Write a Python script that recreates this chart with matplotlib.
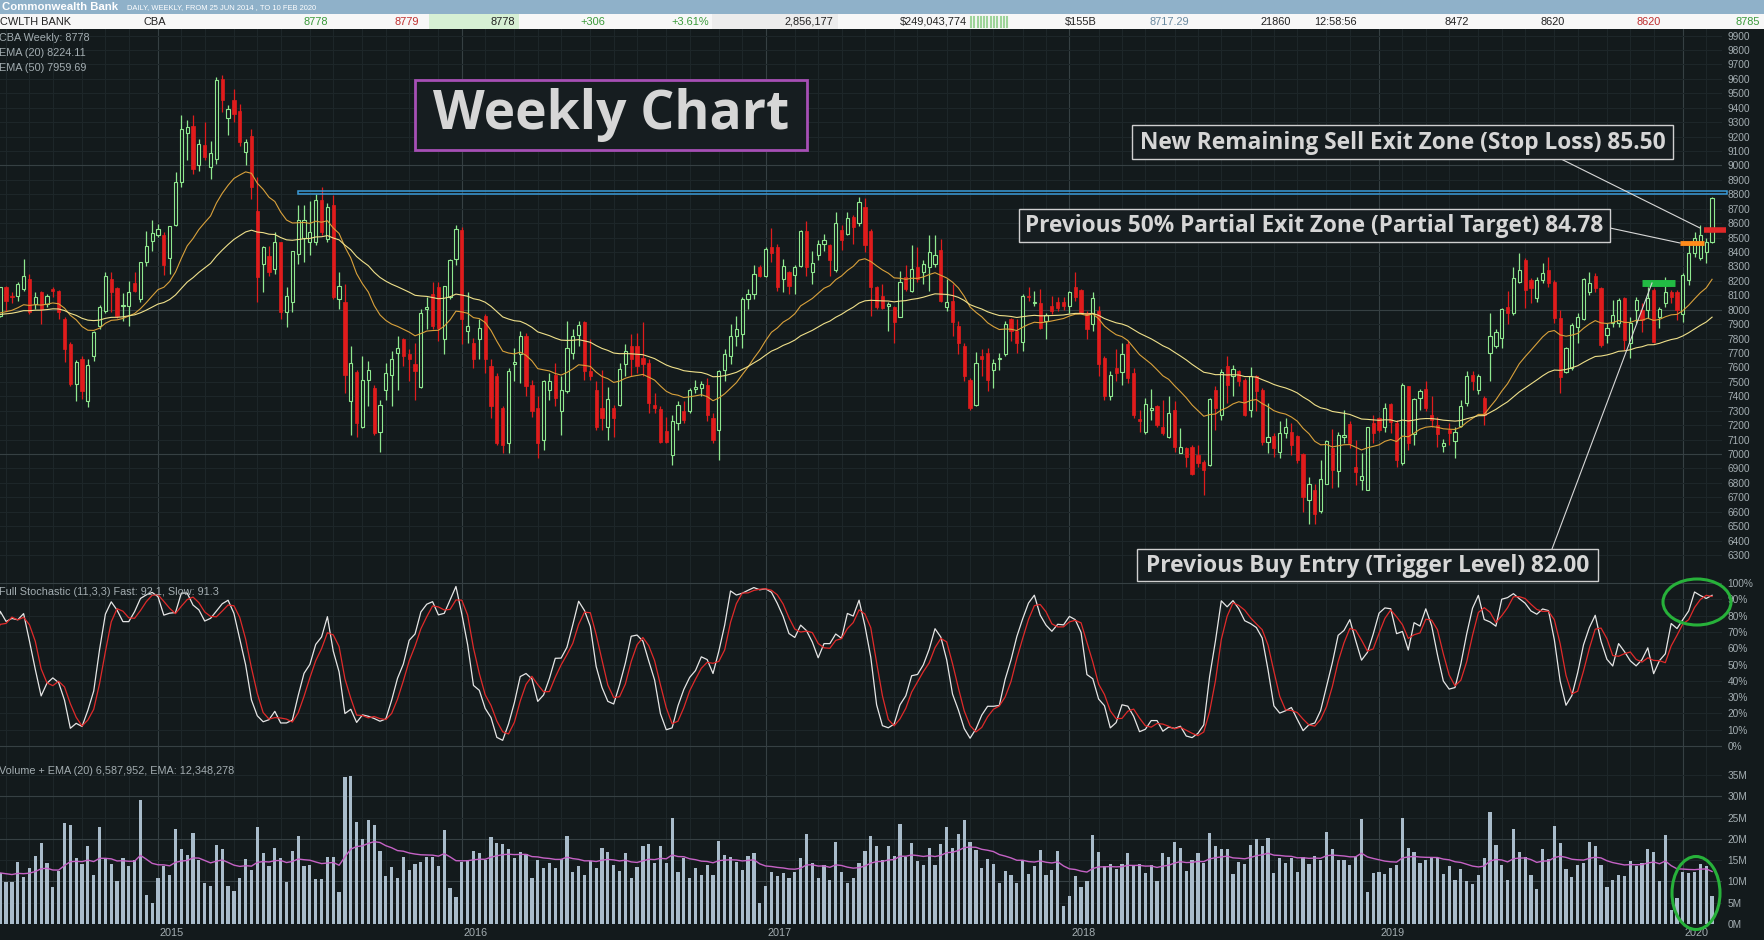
import numpy as np
import pandas as pd
import matplotlib
matplotlib.use("Agg")
import matplotlib.pyplot as plt
from matplotlib.patches import Rectangle, Ellipse
from matplotlib.lines import Line2D
import matplotlib.transforms as mtransforms

plt.rcParams['font.family'] = ['Liberation Sans', 'DejaVu Sans']

# weekly CBA candles, 23 Jun 2014 .. 10 Feb 2020
start_week = '2014-06-23'

opens = [
    7900, 7960, 8156, 8098, 8098, 8145, 8214, 8041, 8121, 8041,
    8145, 8128, 7936, 7763, 7486, 7659, 7370, 7682, 7890, 7994,
    8214, 8149, 8029, 8029, 8186, 8075, 8330, 8480, 8521, 8521,
    8357, 8591, 8884, 9227, 9277, 9000, 9143, 8988, 9046, 9597,
    9328, 9455, 9381, 9092, 9203, 8688, 8318, 8376, 8283, 8468,
    7983, 8052, 8388, 8498, 8470, 8470, 8760, 8493, 8726, 8074,
    8051, 7365, 7568, 7191, 7516, 7458, 7156, 7446, 7551, 7702,
    7795, 7691, 7621, 7465, 8005, 8109, 8156, 7795, 8086, 8354,
    8551, 7853, 7772, 7795, 7958, 7609, 7539, 7319, 7074, 7621,
    7691, 7818, 7481, 7319, 7098, 7447, 7551, 7295, 7435, 7702,
    7823, 7912, 7574, 7446, 7319, 7191, 7319, 7342, 7621, 7749,
    7749, 7667, 7633, 7342, 7312, 7163, 6993, 7214, 7300, 7295,
    7451, 7458, 7481, 7249, 7167, 7586, 7679, 7818, 7830, 8074,
    8109, 8295, 8237, 8435, 8435, 8214, 8260, 8242, 8302, 8547,
    8260, 8377, 8458, 8447, 8279, 8551, 8528, 8644, 8600, 8714,
    8547, 8156, 8093, 8028, 8016, 7953, 8226, 8133, 8295, 8260,
    8295, 8319, 8412, 8016, 8063, 7888, 7749, 7516, 7342, 7679,
    7702, 7581, 7656, 7691, 7935, 7853, 7777, 8098, 8047, 8047,
    7923, 8023, 8056, 8056, 8028, 8156, 8137, 7981, 7900, 7993,
    7667, 7400, 7598, 7567, 7760, 7563, 7242, 7151, 7307, 7330,
    7191, 7121, 7307, 7009, 7040, 7051, 6993, 6947, 6923, 7442,
    7272, 7609, 7540, 7574, 7512, 7307, 7540, 7446, 7086, 7126,
    7016, 7149, 7156, 7126, 7000, 6679, 6749, 6602, 6795, 7040,
    6884, 7121, 7209, 6912, 6823, 6753, 7214, 7249, 7191, 7349,
    7214, 6935, 7470, 7139, 7388, 7454, 7272, 7202, 7056, 7167,
    7093, 7195, 7353, 7551, 7446, 7388, 7698, 7749, 7807, 8016,
    7975, 8195, 8345, 8206, 8079, 8206, 8276, 8194, 7940, 7571,
    7594, 7883, 7934, 8125, 8234, 8148, 7825, 7906, 7906, 8079,
    7767, 8000, 8000, 8000, 8137, 7952, 8044, 8125, 8125, 7971,
    8206, 8391, 8356, 8402, 8472]

highs = [
    8000, 8160, 8167, 8120, 8191, 8353, 8249, 8126, 8130, 8110,
    8156, 8140, 7950, 7780, 7650, 7680, 7659, 7856, 8030, 8260,
    8260, 8160, 8117, 8202, 8260, 8330, 8545, 8619, 8595, 8538,
    8584, 8954, 9347, 9312, 9347, 9185, 9300, 9173, 9613, 9629,
    9416, 9532, 9428, 9185, 9250, 8919, 8445, 8445, 8538, 8468,
    8156, 8410, 8726, 8726, 8754, 8800, 8854, 8737, 8795, 8260,
    8179, 7749, 7580, 7679, 7644, 7481, 7377, 7632, 7714, 7819,
    7807, 7726, 7772, 8005, 8086, 8191, 8191, 8167, 8354, 8586,
    8574, 8121, 7807, 7935, 7970, 7656, 7563, 7330, 7598, 7737,
    7853, 7842, 7516, 7400, 7516, 7563, 7632, 7540, 7923, 7865,
    7923, 7923, 7795, 7505, 7586, 7465, 7342, 7632, 7760, 7830,
    7842, 7916, 7656, 7423, 7330, 7260, 7272, 7365, 7365, 7458,
    7516, 7505, 7528, 7284, 7586, 7726, 7900, 7958, 8086, 8144,
    8307, 8307, 8435, 8567, 8458, 8354, 8272, 8312, 8551, 8614,
    8405, 8481, 8528, 8458, 8675, 8586, 8679, 8656, 8779, 8772,
    8563, 8167, 8179, 8051, 8028, 8272, 8307, 8447, 8435, 8342,
    8516, 8516, 8493, 8214, 8179, 7923, 7772, 7528, 7707, 7726,
    7737, 7656, 7702, 7923, 7940, 7935, 8109, 8156, 8133, 8144,
    7981, 8093, 8086, 8086, 8133, 8265, 8144, 7993, 8121, 8028,
    7679, 7574, 7726, 7772, 7784, 7598, 7307, 7388, 7451, 7342,
    7377, 7400, 7365, 7179, 7051, 7063, 7063, 6958, 7388, 7474,
    7591, 7679, 7614, 7586, 7528, 7605, 7551, 7458, 7353, 7144,
    7226, 7249, 7214, 7132, 7005, 6842, 6795, 6958, 7098, 7172,
    7156, 7307, 7226, 7098, 7005, 7191, 7272, 7260, 7353, 7353,
    7237, 7493, 7470, 7388, 7451, 7505, 7400, 7260, 7102, 7214,
    7191, 7377, 7574, 7574, 7558, 7400, 7981, 7865, 8009, 8133,
    8299, 8391, 8356, 8218, 8229, 8322, 8368, 8206, 7998, 7744,
    7906, 7975, 8218, 8264, 8252, 8160, 7906, 8067, 8079, 8091,
    7947, 8091, 8044, 8160, 8148, 8021, 8229, 8137, 8137, 8252,
    8460, 8541, 8587, 8495, 8779]

lows = [
    7880, 7950, 7994, 8050, 8064, 8130, 7971, 8006, 7902, 8020,
    8087, 7936, 7636, 7470, 7370, 7382, 7324, 7647, 7870, 7980,
    7983, 7940, 7925, 7890, 8121, 8052, 8306, 8410, 8503, 8242,
    8249, 8580, 8850, 9035, 8942, 8965, 9035, 8908, 9012, 9370,
    9208, 9300, 9134, 9000, 8769, 8052, 8121, 8237, 8249, 7936,
    7879, 7983, 8319, 8330, 8377, 8447, 8516, 8470, 8074, 8005,
    7423, 7132, 7121, 7179, 7330, 7132, 7016, 7377, 7330, 7446,
    7609, 7504, 7377, 7458, 7865, 7865, 7784, 7691, 8074, 8307,
    7760, 7772, 7598, 7656, 7563, 7249, 7063, 7005, 7005, 7505,
    7493, 7400, 7260, 6970, 7028, 7377, 7330, 7132, 7423, 7656,
    7749, 7516, 7516, 7167, 7167, 7098, 7121, 7330, 7540, 7540,
    7563, 7540, 7284, 7284, 7074, 7074, 6923, 7167, 7214, 7284,
    7423, 7400, 7226, 7074, 6958, 7505, 7621, 7749, 7737, 8005,
    8074, 8226, 8226, 8330, 8133, 8121, 8109, 8109, 8295, 8237,
    8179, 8342, 8405, 8237, 8260, 8412, 8521, 8453, 8584, 8400,
    7958, 8005, 8005, 7853, 7772, 7947, 8133, 8121, 8191, 8179,
    8133, 8295, 8051, 7993, 7819, 7691, 7505, 7307, 7330, 7540,
    7435, 7458, 7586, 7679, 7784, 7702, 7714, 8063, 8028, 7865,
    7795, 7970, 7993, 8000, 7981, 8063, 7970, 7795, 7853, 7540,
    7377, 7377, 7505, 7481, 7493, 7249, 7156, 7139, 7237, 7191,
    7132, 7109, 7016, 7005, 6912, 6853, 6912, 6714, 6916, 7167,
    7237, 7353, 7400, 7470, 7265, 7260, 7295, 7063, 7005, 6981,
    6970, 7109, 6993, 6935, 6597, 6516, 6516, 6590, 6791, 6767,
    6772, 7074, 7039, 6784, 6749, 6749, 7074, 7156, 7156, 7144,
    6912, 6923, 7028, 7063, 7307, 7295, 7191, 7051, 7016, 7063,
    6970, 7191, 7330, 7447, 7419, 7202, 7505, 7737, 7737, 7900,
    7964, 8183, 8010, 8044, 8056, 8183, 8160, 7906, 7421, 7559,
    7582, 7767, 7929, 8102, 8125, 7744, 7767, 7883, 7883, 7721,
    7663, 7906, 7848, 7941, 7767, 7871, 8021, 8044, 7929, 7917,
    8172, 8368, 8345, 8322, 8460]

closes = [
    7960, 8156, 8064, 8087, 8179, 8237, 7983, 8087, 8006, 8094,
    8133, 7983, 7728, 7486, 7636, 7439, 7617, 7844, 8017, 8232,
    8121, 7960, 8034, 8121, 8133, 8330, 8445, 8531, 8561, 8311,
    8579, 8884, 9254, 9266, 8977, 9150, 9058, 9086, 9590, 9451,
    9393, 9358, 9162, 9162, 8850, 8225, 8434, 8260, 8468, 7983,
    8098, 8404, 8621, 8621, 8540, 8760, 8540, 8714, 8086, 8167,
    7551, 7633, 7214, 7516, 7581, 7144, 7342, 7563, 7656, 7737,
    7679, 7656, 7574, 7981, 8021, 7888, 7877, 8163, 8342, 8563,
    7935, 7888, 7656, 7877, 7656, 7330, 7074, 7063, 7574, 7637,
    7818, 7470, 7295, 7074, 7505, 7505, 7388, 7446, 7737, 7818,
    7895, 7574, 7540, 7191, 7249, 7381, 7249, 7591, 7714, 7656,
    7609, 7621, 7353, 7319, 7086, 7086, 7226, 7339, 7237, 7446,
    7465, 7488, 7272, 7098, 7574, 7691, 7818, 7865, 8074, 8109,
    8249, 8237, 8419, 8395, 8156, 8300, 8167, 8295, 8547, 8295,
    8323, 8456, 8481, 8342, 8598, 8481, 8633, 8574, 8749, 8447,
    8156, 8016, 8009, 8040, 7912, 8191, 8144, 8284, 8214, 8319,
    8400, 8381, 8063, 8051, 7912, 7772, 7540, 7319, 7633, 7656,
    7516, 7633, 7667, 7900, 7853, 7772, 8093, 8086, 8056, 7877,
    7963, 7993, 8009, 8023, 8121, 8086, 7981, 7865, 8079, 7621,
    7400, 7551, 7563, 7691, 7528, 7272, 7226, 7349, 7319, 7202,
    7144, 7284, 7051, 7051, 6981, 6865, 6935, 6888, 7381, 7318,
    7567, 7481, 7591, 7505, 7272, 7540, 7435, 7086, 7121, 7040,
    7149, 7191, 7063, 6958, 6702, 6790, 6586, 6830, 7093, 6888,
    7132, 7133, 7074, 6877, 6847, 7186, 7144, 7167, 7319, 7219,
    6958, 7481, 7074, 7381, 7435, 7319, 7233, 7139, 7074, 7144,
    7156, 7335, 7540, 7505, 7540, 7272, 7819, 7846, 8005, 7981,
    8218, 8276, 8137, 8148, 8206, 8252, 8183, 7940, 7536, 7733,
    7894, 7947, 8211, 8183, 8148, 7756, 7871, 7964, 8067, 7790,
    7906, 8067, 7929, 8079, 7779, 8003, 8125, 8090, 7998, 8241,
    8391, 8495, 8518, 8472, 8778]

# weekly volume, millions of shares
volume_m = [
    12.0,
    11.9, 9.9, 9.9, 14.5, 11.1, 13.1, 16.0, 19.0, 14.3, 8.8,
    12.5, 23.8, 23.3, 15.4, 14.1, 18.2, 11.5, 22.7, 15.4, 14.1,
    10.1, 15.4, 13.5, 15.0, 29.0, 6.7, 5.0, 10.7, 13.7, 11.5,
    22.3, 17.6, 16.2, 21.3, 15.0, 9.7, 8.9, 18.6, 17.6, 9.0,
    7.8, 10.7, 15.2, 12.7, 22.7, 16.6, 13.6, 17.8, 15.4, 9.8,
    17.1, 20.7, 13.5, 13.9, 10.6, 10.6, 15.7, 15.7, 7.4, 34.5,
    34.8, 24.0, 19.9, 24.4, 23.2, 17.2, 11.3, 13.3, 10.9, 15.7,
    12.7, 14.1, 14.6, 15.8, 15.7, 13.7, 22.1, 8.5, 6.4, 14.6,
    15.0, 17.1, 16.6, 15.0, 20.4, 19.1, 18.7, 17.5, 15.4, 16.8,
    16.4, 10.9, 15.0, 13.1, 14.3, 13.1, 15.2, 20.7, 12.1, 13.5,
    11.5, 14.9, 13.1, 17.9, 17.0, 13.9, 12.5, 16.6, 10.8, 13.3,
    18.2, 18.8, 14.4, 18.2, 14.3, 24.8, 12.3, 15.4, 10.7, 13.1,
    11.5, 13.9, 11.5, 19.6, 16.2, 15.8, 14.6, 12.7, 16.0, 16.6,
    5.0, 8.9, 12.3, 11.3, 11.9, 10.7, 12.3, 15.4, 21.1, 14.3,
    10.7, 13.9, 10.3, 19.3, 12.3, 9.7, 10.9, 14.3, 17.2, 20.7,
    18.2,
    15.0, 18.2, 16.0, 23.5, 15.8, 19.1, 14.7, 13.9, 17.8, 13.9,
    18.8, 22.7, 17.8, 21.1, 24.4, 19.3, 17.4, 13.1, 15.2, 14.1,
    9.6, 12.5, 11.5, 9.7, 15.0, 11.7, 13.5, 17.4, 11.5, 12.7,
    17.2, 4.3, 6.6, 11.3, 8.8, 10.1, 20.9, 17.0, 13.6, 14.0,
    12.8, 14.0, 16.6, 13.5, 14.0, 11.9, 13.9, 10.0, 16.6, 15.7,
    19.2, 17.8, 12.4, 15.0, 16.6, 14.4, 21.3, 18.2, 17.5, 17.6,
    11.7, 14.6, 14.1, 18.6, 20.0, 18.2, 20.1, 11.9, 15.4, 14.4,
    15.4, 12.3, 15.8, 14.0, 16.0, 15.0, 21.7, 17.7, 15.0, 15.0,
    13.9, 15.8, 24.7, 7.5, 11.9, 12.2, 11.7, 13.1, 13.9, 24.8,
    17.9, 17.0, 14.4, 15.0, 15.4, 15.4, 11.7, 13.5, 10.3, 12.9,
    10.1, 9.4, 11.5, 15.4, 26.2, 18.6, 13.9, 10.3, 22.3, 17.0,
    15.8, 11.5, 8.2, 17.6, 15.2, 22.9, 19.1, 13.0, 11.1, 13.9,
    14.3, 19.3, 18.2, 13.9, 8.6, 10.3, 11.4, 11.3, 14.8, 13.5,
    14.4, 17.7, 17.0, 10.1, 20.9, 3.3, 6.0, 12.3, 11.9, 12.3,
    14.0, 13.5, 6.6]

# trade levels drawn on the chart
resistance_band = (8800, 8823)
buy_level = 8185
partial_level = 8460
stop_level = 8550

price_ticks = list(range(6300, 10000, 100))
stoch_ticks = list(range(0, 101, 10))
vol_ticks = list(range(0, 36, 5))

# ---------------------------------------------------------------
W, H = 1764, 940
bg = '#131a1c'
grid_faint = '#1d2629'
grid_major = '#364043'
label_c = '#a3adb1'
up_c = '#8fe88f'
dn_c = '#e01c1c'

df = pd.DataFrame({'o': opens, 'h': highs, 'l': lows, 'c': closes, 'v': volume_m})
df.index = pd.date_range(start_week, periods=len(df), freq='7D')
x = np.arange(len(df))

ema20 = df['c'].ewm(span=20, adjust=False).mean()
ema50 = df['c'].ewm(span=50, adjust=False).mean()
hh = df['h'].rolling(11, min_periods=1).max()
ll = df['l'].rolling(11, min_periods=1).min()
raw_k = 100 * (df['c'] - ll) / (hh - ll)
fast = raw_k.rolling(3, min_periods=1).mean()
slow = fast.rolling(3, min_periods=1).mean()
vol_ema = df['v'].ewm(span=20, adjust=False).mean()

dates = df.index
month_idx = [i for i in range(1, len(dates)) if dates[i].month != dates[i - 1].month]
year_idx = [i for i in range(1, len(dates)) if dates[i].year != dates[i - 1].year]

fig = plt.figure(figsize=(W / 100, H / 100), dpi=100)
fig.patch.set_facecolor(bg)


def fx(px):
    return px / W


def fy(py):
    return 1 - py / H


def panel(top, bottom):
    ax = fig.add_axes([0, fy(bottom), fx(1722), (bottom - top) / H])
    ax.set_facecolor(bg)
    for s in ax.spines.values():
        s.set_visible(False)
    ax.set_xlim(0.96, 295.7)
    ax.yaxis.tick_right()
    ax.tick_params(axis='y', length=0, pad=4, labelsize=7.3, labelcolor=label_c)
    ax.tick_params(axis='x', length=0, labelbottom=False)
    for i in month_idx:
        ax.axvline(i, color=grid_major if i in year_idx else grid_faint, lw=0.8, zorder=0)
    return ax


ax_p = panel(29, 578)
ax_s = panel(578, 760)
ax_v = panel(760, 924)

# ---- price panel
ax_p.set_ylim(6141, 9946)
ax_p.set_yticks(price_ticks)
ax_p.set_yticklabels([str(v) for v in price_ticks])
for v in price_ticks:
    ax_p.axhline(v, color=grid_major if v % 1000 == 0 else grid_faint, lw=0.8, zorder=0)

up = df['c'] >= df['o']
ax_p.vlines(x[up], df['l'][up], df['h'][up], color=up_c, lw=0.9, zorder=2)
ax_p.vlines(x[~up], df['l'][~up], df['h'][~up], color=dn_c, lw=0.9, zorder=2)
body_lo = np.minimum(df['o'], df['c'])
body_h = np.maximum(np.abs(df['c'] - df['o']), 6)
ax_p.bar(x[up], body_h[up], bottom=body_lo[up], width=0.55, facecolor=bg,
         edgecolor=up_c, lw=0.8, zorder=3)
ax_p.bar(x[~up], body_h[~up], bottom=body_lo[~up], width=0.55, facecolor=dn_c,
         edgecolor=dn_c, lw=0.5, zorder=3)
ax_p.plot(x, ema20, color='#d9a13b', lw=0.8, zorder=4)
ax_p.plot(x, ema50, color='#efe08a', lw=0.8, zorder=4)

ax_p.add_patch(Rectangle((52, resistance_band[0]), 296.5 - 52,
                         resistance_band[1] - resistance_band[0],
                         fill=False, edgecolor='#3a9ad9', lw=1.1, zorder=5, clip_on=False))
ax_p.plot([282.0, 287.7], [buy_level] * 2, color='#22bb44', lw=5, solid_capstyle='butt', zorder=6)
ax_p.plot([288.5, 292.6], [partial_level] * 2, color='#ff8c1a', lw=3.5, solid_capstyle='butt', zorder=6)
ax_p.plot([292.6, 296.3], [stop_level] * 2, color='#e02828', lw=4, solid_capstyle='butt',
          zorder=6, clip_on=False)

for k, t in enumerate(['CBA Weekly: 8778', 'EMA (20) 8224.11', 'EMA (50) 7959.69']):
    fig.text(fx(-1), fy(38 + 15 * k), t, color=label_c, fontsize=7.8, va='center', ha='left')

# ---- stochastic panel
ax_s.set_ylim(-8.6, 103.1)
ax_s.set_yticks(stoch_ticks)
ax_s.set_yticklabels([f'{v}%' for v in stoch_ticks])
for v in stoch_ticks:
    ax_s.axhline(v, color=grid_major if v in (0, 100) else grid_faint, lw=0.8, zorder=0)
ax_s.plot(x, fast, color='#e6e6e6', lw=0.9, zorder=3)
ax_s.plot(x, slow, color='#e02a2a', lw=0.9, zorder=4)
fig.text(fx(-1), fy(592), 'Full Stochastic (11,3,3) Fast: 92.1, Slow: 91.3',
         color=label_c, fontsize=7.8, va='center', ha='left')

# ---- volume panel
ax_v.set_ylim(0, 38.5)
ax_v.set_yticks(vol_ticks)
ax_v.set_yticklabels([f'{v}M' for v in vol_ticks])
for v in vol_ticks:
    ax_v.axhline(v, color=grid_major if v in (10, 20, 30) else grid_faint, lw=0.8, zorder=0)
ax_v.bar(x, df['v'], width=0.55, color='#a9bccb', zorder=2)
ax_v.plot(x, vol_ema, color='#c562c5', lw=1.0, zorder=3)
fig.text(fx(-1), fy(771), 'Volume + EMA (20) 6,587,952, EMA: 12,348,278',
         color=label_c, fontsize=7.8, va='center', ha='left')

trans = mtransforms.blended_transform_factory(ax_v.transData, ax_v.transAxes)
for i in year_idx:
    ax_v.text(i + 0.3, -0.055, str(dates[i].year), transform=trans, color=label_c,
              fontsize=7.8, ha='left', va='center', clip_on=False)

# ---- header bars
fig.add_artist(Rectangle((0, fy(14)), 1, 14 / H, transform=fig.transFigure,
                         facecolor='#8fb1c9', edgecolor='none'))
fig.text(fx(2), fy(7), 'Commonwealth Bank', color='white', fontsize=8.2,
         fontweight='bold', va='center')
fig.text(fx(127), fy(7.5), 'DAILY, WEEKLY, FROM 25 JUN 2014 , TO 10 FEB 2020',
         color='white', fontsize=5.4, va='center')
fig.add_artist(Rectangle((0, fy(29)), 1, 15 / H, transform=fig.transFigure,
                         facecolor='#f7f7f7', edgecolor='none'))
fig.add_artist(Rectangle((fx(429), fy(29)), 90 / W, 15 / H, transform=fig.transFigure,
                         facecolor='#d6f0d4', edgecolor='none'))
fig.add_artist(Rectangle((fx(712), fy(29)), 126 / W, 15 / H, transform=fig.transFigure,
                         facecolor='#ececec', edgecolor='none'))
for k in range(12):
    fig.add_artist(Line2D([fx(971 + 3.3 * k)] * 2, [fy(17), fy(27)], transform=fig.transFigure,
                          color='#9ed49a', lw=1.5))
quote = [(0, 'CWLTH BANK', '#222222', 'left'), (143, 'CBA', '#222222', 'left'),
         (328, '8778', '#3a9a3a', 'right'), (419, '8779', '#c03030', 'right'),
         (515, '8778', '#222222', 'right'), (605, '+306', '#3a9a3a', 'right'),
         (709, '+3.61%', '#3a9a3a', 'right'), (833, '2,856,177', '#222222', 'right'),
         (967, '$249,043,774', '#222222', 'right'), (1097, '$155B', '#222222', 'right'),
         (1189, '8717.29', '#6a8aa0', 'right'), (1291, '21860', '#222222', 'right'),
         (1357, '12:58:56', '#222222', 'right'), (1469, '8472', '#222222', 'right'),
         (1565, '8620', '#222222', 'right'), (1661, '8620', '#c03030', 'right'),
         (1760, '8785', '#3a9a3a', 'right')]
for px, t, c, ha in quote:
    fig.text(fx(px), fy(22), t, color=c, fontsize=7.9, ha=ha, va='center')

# ---- annotation boxes
ann_font = ['Open Sans', 'DejaVu Sans']


def box(x0, y0, x1, y1, text, size, edge, lw):
    fig.add_artist(Rectangle((fx(x0), fy(y1)), (x1 - x0) / W, (y1 - y0) / H,
                             transform=fig.transFigure, facecolor='#161d20',
                             edgecolor=edge, lw=lw, zorder=8))
    fig.text(fx((x0 + x1) / 2), fy((y0 + y1) / 2 + 0.5), text, family=ann_font, fontweight='bold',
             fontsize=size, color='#d6d6d6', ha='center', va='center', zorder=9)


def leader(p0, p1):
    fig.add_artist(Line2D([fx(p0[0]), fx(p1[0])], [fy(p0[1]), fy(p1[1])],
                          transform=fig.transFigure, color='#d8d8d8', lw=0.8, zorder=7))


leader((1557, 157), (1700, 228))
leader((1610, 228), (1680, 243))
leader((1552, 549), (1652, 283))
box(415, 80, 807, 150, 'Weekly Chart', 38.5, '#a64fb5', 2.0)
box(1132, 125, 1673, 159, 'New Remaining Sell Exit Zone (Stop Loss) 85.50', 16.4, '#cfcfcf', 1.0)
box(1019, 209, 1610, 242, 'Previous 50% Partial Exit Zone (Partial Target) 84.78', 16.3, '#cfcfcf', 1.0)
box(1137, 549, 1598, 581, 'Previous Buy Entry (Trigger Level) 82.00', 16.4, '#cfcfcf', 1.0)

for cx, cy, w, h in [(1697, 602, 68, 46), (1696, 893, 48, 73)]:
    fig.add_artist(Ellipse((fx(cx), fy(cy)), w / W, h / H, transform=fig.transFigure,
                           fill=False, edgecolor='#27b13a', lw=2.2, zorder=9))

fig.savefig('out.png', dpi=100, facecolor=bg)
